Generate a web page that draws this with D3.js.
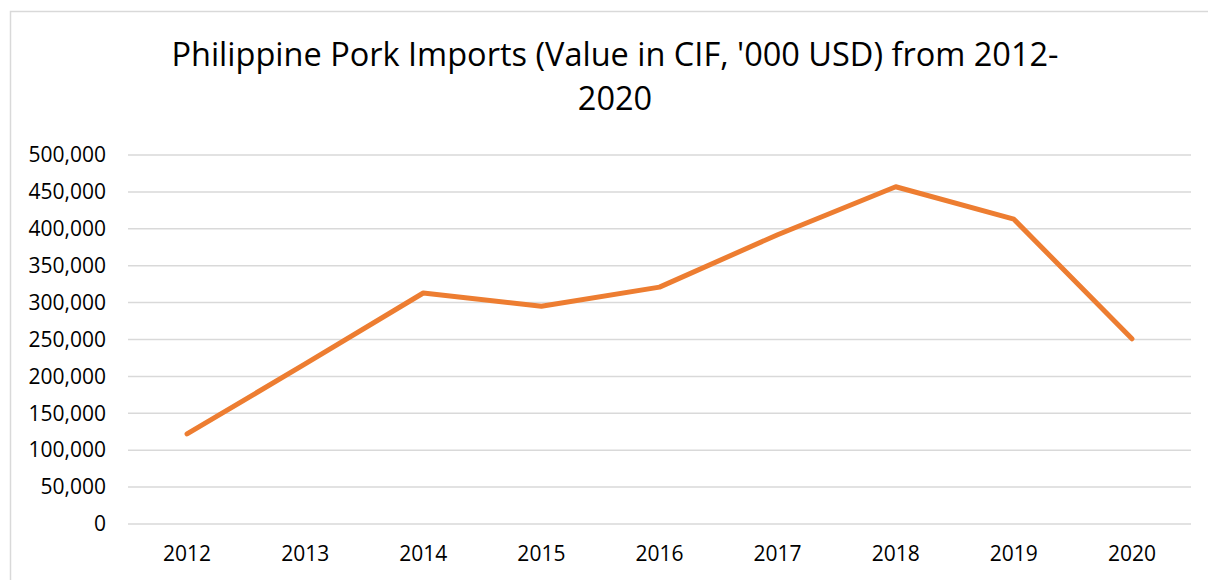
<!DOCTYPE html>
<html>
<head>
<meta charset="utf-8">
<script src="https://cdn.jsdelivr.net/npm/d3@7"></script>
<style>
  body { margin: 0; background: #fff; }
  text { font-family: "Open Sans", "Noto Sans", sans-serif; fill: #000; }
</style>
</head>
<body>
<div id="chart"></div>
<script>
// chart data
var years = ["2012", "2013", "2014", "2015", "2016", "2017", "2018", "2019", "2020"];
var importValues = [122000, 217000, 313000, 295000, 321000, 392000, 457000, 413000, 251000];
var yTicks = [0, 50000, 100000, 150000, 200000, 250000, 300000, 350000, 400000, 450000, 500000];
var titleLines = ["Philippine Pork Imports (Value in CIF, '000 USD) from 2012-", "2020"];

var svgWidth = 1208;
var svgHeight = 580;

var margin = { top: 155, right: 17, bottom: 56, left: 128 };
var width = svgWidth - margin.left - margin.right;
var height = svgHeight - margin.top - margin.bottom;

var svg = d3.select("#chart")
  .append("svg")
  .attr("width", svgWidth)
  .attr("height", svgHeight);

// outer chart border
svg.append("rect")
  .attr("x", 10.5)
  .attr("y", 11.5)
  .attr("width", svgWidth)
  .attr("height", svgHeight)
  .attr("fill", "none")
  .attr("stroke", "#d9d9d9")
  .attr("stroke-width", 1.5);

// title
svg.append("text")
  .attr("text-anchor", "middle")
  .style("font-size", "32.5px")
  .selectAll("tspan")
  .data(titleLines)
  .enter()
  .append("tspan")
  .attr("x", 615)
  .attr("y", (d, i) => 66 + i * 44)
  .text(d => d);

var chartGroup = svg.append("g")
  .attr("transform", `translate(${margin.left}, ${margin.top})`);

var xScale = d3.scaleBand()
  .domain(years)
  .range([0, width]);

var yScale = d3.scaleLinear()
  .domain([0, 500000])
  .range([height, 0]);

// gridlines
chartGroup.append("g")
  .selectAll("line")
  .data(yTicks)
  .enter()
  .append("line")
  .attr("x1", 0)
  .attr("x2", width)
  .attr("y1", d => yScale(d))
  .attr("y2", d => yScale(d))
  .attr("stroke", "#d9d9d9")
  .attr("stroke-width", 1.5);

// y axis labels
var leftAxis = d3.axisLeft(yScale)
  .tickValues(yTicks)
  .tickFormat(d3.format(","))
  .tickSize(0)
  .tickPadding(22);

chartGroup.append("g")
  .style("font-size", "21px")
  .call(leftAxis)
  .call(g => g.select(".domain").remove())
  .selectAll("text")
  .style("font-family", "'Open Sans', sans-serif")
  .attr("fill", "#000");

// x axis labels
var bottomAxis = d3.axisBottom(xScale)
  .tickSize(0)
  .tickPadding(22);

chartGroup.append("g")
  .attr("transform", `translate(0, ${height})`)
  .style("font-size", "21px")
  .call(bottomAxis)
  .call(g => g.select(".domain").remove())
  .selectAll("text")
  .style("font-family", "'Open Sans', sans-serif")
  .attr("fill", "#000");

// the line
var line = d3.line()
  .x((d, i) => xScale(years[i]) + xScale.bandwidth() / 2)
  .y(d => yScale(d));

chartGroup.append("path")
  .datum(importValues)
  .attr("d", line)
  .attr("fill", "none")
  .attr("stroke", "#ED7D31")
  .attr("stroke-width", 5)
  .attr("stroke-linecap", "round")
  .attr("stroke-linejoin", "round");
</script>
</body>
</html>
